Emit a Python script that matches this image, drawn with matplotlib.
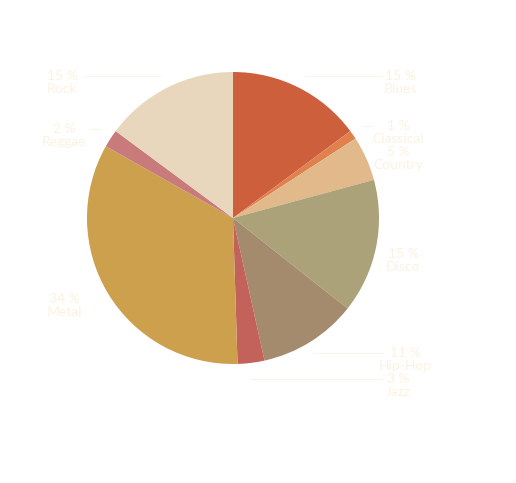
import matplotlib
matplotlib.use("Agg")
import matplotlib.pyplot as plt

# -- data --
genres = ["Blues", "Classical", "Country", "Disco", "Hip-Hop", "Jazz",
          "Metal", "Reggae", "Rock"]
shares = [15, 1, 5, 15, 11, 3, 34, 2, 15]
colors = ["#cd5f3c", "#e0804c", "#e2b98a", "#aba27a", "#a58b6d",
          "#c3625a", "#cda04e", "#c97b7b", "#e8d7bc"]

# label placement in pixel coords (x, y from top) -- layout only
label_pos = {
    "Blues": (400, 83), "Classical": (398, 133), "Country": (398, 159),
    "Disco": (403, 261), "Hip-Hop": (405, 360), "Jazz": (398, 386),
    "Metal": (64, 306), "Reggae": (64, 136), "Rock": (62, 83),
}
# leader lines (x0, x1) drawn at the percent-line height
leaders = {
    "Blues": (305, 382), "Classical": (362, 372), "Reggae": (90, 100),
    "Rock": (84, 160), "Hip-Hop": (313, 383), "Jazz": (250, 382),
}

W, H = 516, 483
TEXT_COLOR = "#fcf2e1"

plt.rcParams["font.family"] = ["Lato", "DejaVu Sans"]

fig = plt.figure(figsize=(W / 100, H / 100), dpi=100)
ax = fig.add_axes([0, 0, 1, 1])

ax.pie(shares, colors=colors, startangle=90, counterclock=False,
       center=(233, H - 218), radius=146, frame=True,
       wedgeprops=dict(linewidth=0))
ax.set_xlim(0, W)
ax.set_ylim(0, H)
ax.set_aspect("equal")
ax.axis("off")

for g, s in zip(genres, shares):
    x, y = label_pos[g]
    ax.text(x, H - y + 7, f"{s} %", ha="center", va="center",
            fontsize=10, color=TEXT_COLOR)
    ax.text(x, H - y - 6, g, ha="center", va="center",
            fontsize=10, color=TEXT_COLOR)
    if g in leaders:
        x0, x1 = leaders[g]
        ax.plot([x0, x1], [H - y + 7, H - y + 7], color="#f9f4ea",
                linewidth=0.7)

fig.savefig("out.png", dpi=100, facecolor="white")
